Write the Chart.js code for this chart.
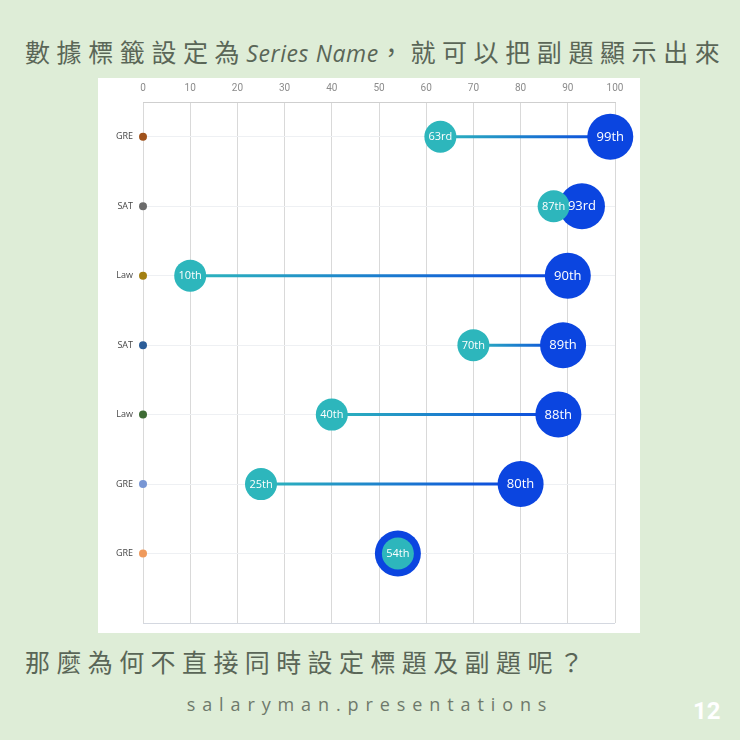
<!DOCTYPE html>
<html>
<head>
<meta charset="utf-8">
<script src="https://cdn.jsdelivr.net/npm/chart.js@4"></script>
<style>
  html, body { margin: 0; padding: 0; }
  body {
    width: 740px; height: 740px; overflow: hidden; position: relative;
    background: #deedd7;
    font-family: "Noto Sans CJK TC", "Noto Sans", sans-serif;
  }
  .heading {
    position: absolute; left: 25px; white-space: nowrap;
    font-size: 25px; font-weight: 400; letter-spacing: 6.6px; color: #5a6657;
  }
  .heading i {
    font-family: "Open Sans", sans-serif; font-style: italic; font-weight: 400;
    font-size: 23px; letter-spacing: 0.6px;
  }
  #title { top: 33px; }
  #question { top: 643px; letter-spacing: 6.4px; }
  #brand {
    position: absolute; left: 0; width: 740px; top: 692px; text-align: center;
    font-family: "Open Sans", sans-serif; font-size: 18px; letter-spacing: 6.9px;
    color: #6e796b;
  }
  #page {
    position: absolute; left: 693px; top: 697px;
    font-family: "Liberation Sans Narrow", "Roboto", sans-serif; font-weight: 700;
    font-size: 24px; color: #ffffff;
  }
  #panel {
    position: absolute; left: 98px; top: 78px; width: 542px; height: 555px;
    background: #ffffff;
  }
  #panel canvas { position: absolute; left: 0; top: 0; }
</style>
</head>
<body>
<div id="title" class="heading">數據標籤設定為<i>Series Name</i>，就可以把副題顯示出來</div>
<div id="panel"><canvas id="dumbbell" width="542" height="555"></canvas></div>
<div id="question" class="heading">那麼為何不直接同時設定標題及副題呢？</div>
<div id="brand">salaryman.presentations</div>
<div id="page">12</div>

<script>
// rows, top to bottom
const categories = ["GRE", "SAT", "Law", "SAT", "Law", "GRE", "GRE"];
const lowValues  = [63, 87, 10, 70, 40, 25, 54];
const highValues = [99, 93, 90, 89, 88, 80, 54];
const axisDotColors = ["#a0521c", "#6b6b6b", "#a38012", "#2b5d98", "#3d6b34", "#7896d4", "#ef9a5c"];
const xTicks = [0, 10, 20, 30, 40, 50, 60, 70, 80, 90, 100];

const TEAL = "#2db6bc";
const BLUE = "#0b45e0";

function ordinal(n) {
  const t = n % 100;
  if (t >= 11 && t <= 13) return n + "th";
  const s = { 1: "st", 2: "nd", 3: "rd" }[n % 10];
  return n + (s || "th");
}

const lowPoints = lowValues.map((v, i) => ({ x: v, y: i }));
const highPoints = highValues.map((v, i) => ({ x: v, y: i }));

// one connector per row, coloured teal -> blue
const connectors = categories.map((c, i) => ({
  type: "line",
  data: [{ x: lowValues[i], y: i }, { x: highValues[i], y: i }],
  borderWidth: 3,
  pointRadius: 0,
  clip: false,
  segment: {
    borderColor: c => {
      const g = c.chart.ctx.createLinearGradient(c.p0.x, 0, c.p1.x + 0.01, 0);
      g.addColorStop(0, TEAL);
      g.addColorStop(1, BLUE);
      return g;
    }
  }
}));

const bubbleLabels = {
  id: "bubbleLabels",
  afterDatasetsDraw(chart) {
    const ctx = chart.ctx;
    ctx.save();
    ctx.textAlign = "center";
    ctx.textBaseline = "middle";
    ctx.fillStyle = "#ffffff";
    // blue labels first, teal ones on top
    ctx.font = "13px 'Open Sans'";
    chart.getDatasetMeta(1).data.forEach((el, i) => {
      if (highValues[i] === lowValues[i]) return;
      ctx.fillText(ordinal(highValues[i]), el.x, el.y + 0.5);
    });
    ctx.font = "11px 'Open Sans'";
    chart.getDatasetMeta(0).data.forEach((el, i) => {
      ctx.fillText(ordinal(lowValues[i]), el.x, el.y + 0.5);
    });
    ctx.restore();
  }
};

new Chart(document.getElementById("dumbbell"), {
  type: "scatter",
  data: {
    datasets: [
      { data: lowPoints, pointRadius: 16, pointHoverRadius: 16, backgroundColor: TEAL, borderWidth: 0, clip: false },
      { data: highPoints, pointRadius: 23, pointHoverRadius: 23, backgroundColor: BLUE, borderWidth: 0, clip: false },
      ...connectors,
      {
        data: categories.map((c, i) => ({ x: 0, y: i })),
        pointRadius: 4, backgroundColor: axisDotColors, borderWidth: 0, clip: false
      }
    ]
  },
  options: {
    responsive: false,
    animation: false,
    events: [],
    layout: { autoPadding: false, padding: { top: 0, right: 25, bottom: 10, left: 0 } },
    plugins: { legend: { display: false }, tooltip: { enabled: false } },
    scales: {
      x: {
        type: "linear",
        position: "top",
        min: 0, max: 100,
        afterBuildTicks: s => { s.ticks = xTicks.map(v => ({ value: v })); },
        afterFit: s => { s.height = 24; s.paddingLeft = 0; s.paddingRight = 0; },
        grid: { color: "#d9d9d9", lineWidth: 1, drawTicks: false },
        border: { display: true, color: "#cfcfcf" },
        ticks: {
          padding: 8,
          color: "#8c8c8c",
          font: { family: "'Liberation Sans Narrow', 'Roboto'", size: 10 }
        }
      },
      y: {
        type: "linear",
        reverse: true,
        min: -0.5, max: 7,
        afterBuildTicks: s => { s.ticks = categories.map((c, i) => ({ value: i })).concat([{ value: 7 }]); },
        afterFit: s => { s.width = 45; s.paddingTop = 0; s.paddingBottom = 0; },
        grid: {
          drawTicks: false,
          color: c => (c.tick && c.tick.value === 7 ? "#d4d8e0" : "#eef0f3")
        },
        border: { display: false },
        ticks: {
          padding: 10,
          color: "#474747",
          font: { family: "'Open Sans'", size: 9 },
          callback: v => categories[v] || ""
        }
      }
    }
  },
  plugins: [bubbleLabels]
});
</script>
</body>
</html>
